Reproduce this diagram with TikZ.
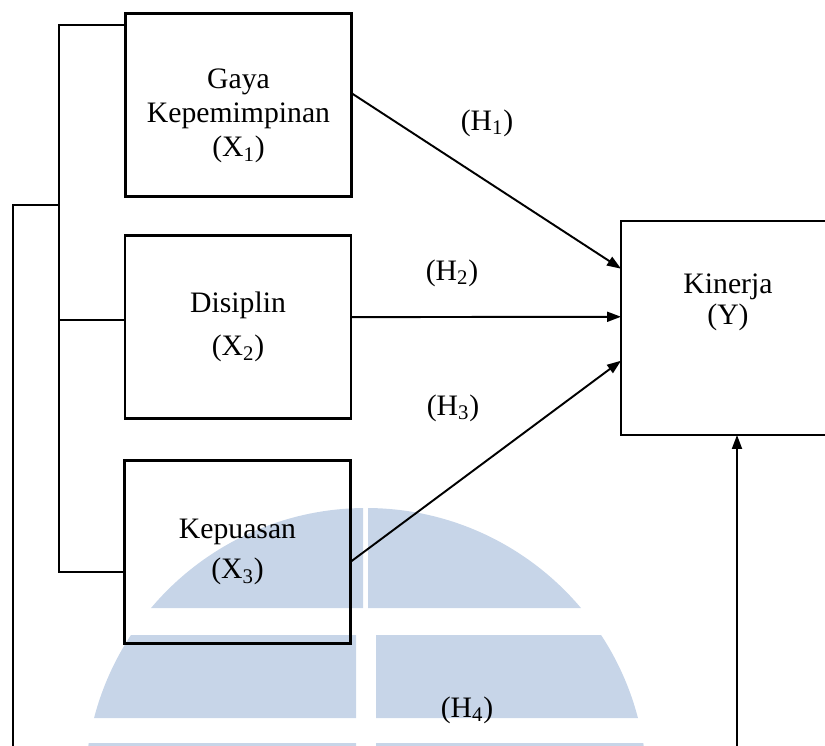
\documentclass[tikz,border=0pt]{standalone}
\usepackage{fontspec}
\setmainfont{Liberation Serif}
\usetikzlibrary{positioning,arrows.meta,calc}
\definecolor{wmblue}{RGB}{199,213,232}
\tikzset{
  var/.style={draw=black,line width=1.3pt,minimum width=4.52cm,minimum height=3.66cm,inner sep=0pt,outer sep=0pt},
  vtxt/.style={font=\fontsize{16.9pt}{19.3pt}\selectfont,align=center,inner sep=0pt},
  hyp/.style={font=\fontsize{16.9pt}{19.3pt}\selectfont,inner sep=1pt},
  ln/.style={line width=1.2pt},
  arr/.style={-{Triangle[length=0.28cm,width=0.2cm]},line width=1.1pt},
}
\begin{document}
\begin{tikzpicture}[x=0.02cm,y=-0.02cm]
  \useasboundingbox (0,0) rectangle (825,745);
  % watermark
  \begin{scope}
    \clip (0,500) rectangle (363,608) (368,500) rectangle (830,608)
          (0,635) rectangle (356,718) (376,635) rectangle (830,718)
          (0,743) rectangle (356,760) (376,743) rectangle (830,760);
    \fill[wmblue] (366,789) circle[radius=281];
  \end{scope}
  % variables
  \node[var,label={[vtxt,yshift=-0.22cm]center:Gaya\\Kepemimpinan\\(X\textsubscript{1})}] (x1) at (238.5,105) {};
  \node[var,label={[vtxt]center:Disiplin\\[5pt](X\textsubscript{2})}] (x2) at (238,327) {};
  \node[var,label={[vtxt]center:Kepuasan\\[3.5pt](X\textsubscript{3})}] (x3) at (237.5,552) {};
  \node[var,minimum width=4.28cm,minimum height=4.28cm,
    label={[vtxt,yshift=0.51cm]center:Kinerja\\[-1.7pt](Y)}] (kin) at (728,328) {};
  % hypotheses
  \draw[arr] (x1.6) -- (kin.151.5);
  \draw[arr] (x2.5) -- (kin.174);
  \draw[arr] (x3.355) -- (kin.197.6);
  \node[hyp] (h1) at (487,123) {(H\textsubscript{1})};
  \node[hyp] (h2) at (452,273) {(H\textsubscript{2})};
  \node[hyp] (h3) at (453,408) {(H\textsubscript{3})};
  \node[hyp] (h4) at (467,710) {(H\textsubscript{4})};
  % joint path
  \coordinate (brt) at (59,25);
  \coordinate (brb) at (59,572);
  \coordinate (otl) at (13,205);
  \coordinate (obl) at (13,760);
  \coordinate (obr) at (737,760);
  \draw[ln] (x1.west |- brt) -- (brt) -- (brb) -- (x3.west |- brb);
  \draw[ln] (x2.west |- 0,320) -- (brt |- 0,320);
  \draw[ln] (brt |- otl) -- (otl) -- (obl);
  \draw[arr] (obr) -- (obr |- kin.south);
\end{tikzpicture}
\end{document}
